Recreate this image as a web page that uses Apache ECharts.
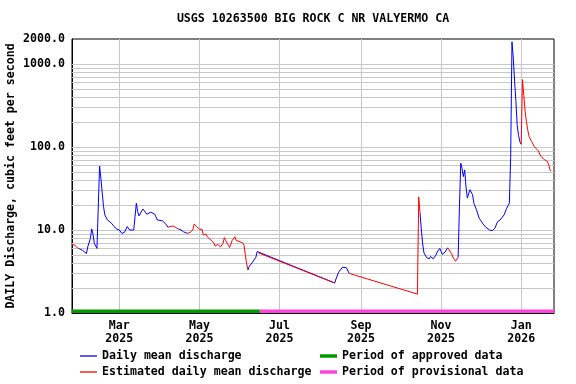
<!DOCTYPE html>
<html><head><meta charset="utf-8">
<script src="https://cdn.jsdelivr.net/npm/echarts@6/dist/echarts.min.js"></script>
<style>html,body{margin:0;padding:0;background:#fff}#chart{width:576px;height:384px}</style>
</head><body><div id="chart"></div>
<script>
const titleText = 'USGS 10263500 BIG ROCK C NR VALYERMO CA';
const yAxisTitle = 'DAILY Discharge, cubic feet per second';
const seriesNames = ['Daily mean discharge', 'Estimated daily mean discharge', 'Period of approved data', 'Period of provisional data'];

const dates = [
 '2025-01-24','2025-01-26','2025-01-28','2025-01-29','2025-02-01','2025-02-04','2025-02-05','2025-02-07','2025-02-08','2025-02-09',
 '2025-02-10','2025-02-12','2025-02-13','2025-02-14','2025-02-15','2025-02-16','2025-02-17','2025-02-18','2025-02-20','2025-02-23',
 '2025-02-25','2025-02-27','2025-03-01','2025-03-03','2025-03-05','2025-03-07','2025-03-09','2025-03-12','2025-03-13','2025-03-14',
 '2025-03-15','2025-03-16','2025-03-17','2025-03-19','2025-03-20','2025-03-22','2025-03-25','2025-03-28','2025-03-30','2025-04-03',
 '2025-04-06','2025-04-07','2025-04-08','2025-04-11','2025-04-13','2025-04-15','2025-04-17','2025-04-19','2025-04-22','2025-04-24',
 '2025-04-26','2025-04-27','2025-04-29','2025-05-01','2025-05-03','2025-05-04','2025-05-06','2025-05-07','2025-05-10','2025-05-12',
 '2025-05-13','2025-05-15','2025-05-17','2025-05-19','2025-05-20','2025-05-21','2025-05-23','2025-05-24','2025-05-26','2025-05-28',
 '2025-05-29','2025-05-30','2025-06-01','2025-06-03','2025-06-04','2025-06-05','2025-06-06','2025-06-07','2025-06-08','2025-06-10',
 '2025-06-11','2025-06-13','2025-06-14','2025-06-15','2025-08-12','2025-08-13','2025-08-15','2025-08-18','2025-08-19','2025-08-21',
 '2025-08-23','2025-10-14','2025-10-15','2025-10-16','2025-10-17','2025-10-18','2025-10-19','2025-10-21','2025-10-23','2025-10-24',
 '2025-10-26','2025-10-28','2025-10-29','2025-10-31','2025-11-01','2025-11-02','2025-11-04','2025-11-05','2025-11-06','2025-11-07',
 '2025-11-09','2025-11-10','2025-11-12','2025-11-14','2025-11-15','2025-11-16','2025-11-17','2025-11-18','2025-11-19','2025-11-20',
 '2025-11-21','2025-11-23','2025-11-24','2025-11-25','2025-11-26','2025-11-28','2025-11-30','2025-12-03','2025-12-05','2025-12-08',
 '2025-12-10','2025-12-12','2025-12-14','2025-12-16','2025-12-17','2025-12-19','2025-12-21','2025-12-23','2025-12-24','2025-12-25',
 '2025-12-26','2025-12-27','2025-12-28','2025-12-29','2025-12-30','2025-12-31','2026-01-01','2026-01-02','2026-01-03','2026-01-04',
 '2026-01-05','2026-01-06','2026-01-07','2026-01-09','2026-01-11','2026-01-14','2026-01-16','2026-01-19','2026-01-21','2026-01-22',
 '2026-01-23','2026-01-24'
];
const flow = [
 6.7, 6.6, 6.1, 6.0, 5.7, 5.2, 6.25, 7.9, 10.3, 8.9,
 6.9, 6.0, 5.7, 59, 42, 28, 19.2, 15.2, 13.2, 12.1,
 11, 10.3, 10.0, 9.1, 9.4, 11, 10, 10, 14.5, 21,
 16.7, 14.8, 15.5, 17.9, 17, 15.5, 16.4, 15.5, 13.2, 12.9,
 11.5, 10.8, 10.3, 11.2, 10.7, 10.3, 10.0, 9.5, 9.1, 9.4,
 10.0, 11.8, 11.0, 10.2, 10.2, 8.7, 8.9, 8.3, 7.5, 7.0,
 6.4, 6.7, 6.25, 6.9, 8.1, 7.5, 6.55, 6.15, 7.5, 8.3,
 7.5, 7.7, 7.2, 7.0, 6.55, 4.95, 3.9, 3.3, 3.65, 4.0,
 4.2, 4.7, 5.5, 5.3, 2.3, 2.57, 3.1, 3.57, 3.4, 3.5,
 3.0, 1.69, 25, 16, 10, 6.8, 5.3, 4.65, 4.5, 4.8,
 4.5, 4.95, 5.4, 6.0, 5.55, 5.1, 5.4, 5.7, 6.1, 5.8,
 5.2, 4.7, 4.2, 4.7, 19, 64, 55, 44, 53, 33,
 24.3, 30.6, 30, 26.6, 21, 17.5, 13.9, 11.8, 10.8, 10.0,
 9.8, 10.5, 12.6, 13.2, 12.6, 15.2, 18.3, 21, 75, 1850,
 1180, 620, 354, 180, 138, 116, 108, 647, 420, 270,
 203, 161, 134, 116, 101, 90, 77, 70, 67, 61,
 53, 51
];
const estimatedPeriods = [
 ['2025-01-24','2025-01-29'], ['2025-04-07','2025-04-15'], ['2025-04-22','2025-06-07'],
 ['2025-06-15','2025-08-12'], ['2025-08-23','2025-10-16'], ['2025-11-06','2025-11-14'],
 ['2026-01-01','2026-01-24']
];
const approvedPeriod = ['2025-01-24', '2025-06-16'];
const provisionalPeriod = ['2025-06-16', '2026-01-26'];
const xRange = ['2025-01-24', '2026-01-26'];
const yRange = [1, 2000];
const monthTicks = ['2025-03-01','2025-05-01','2025-07-01','2025-09-01','2025-11-01','2026-01-01'];
const monthNames = ['Jan','Feb','Mar','Apr','May','Jun','Jul','Aug','Sep','Oct','Nov','Dec'];
const gridValues = [2,3,4,5,6,7,8,9,10,20,30,40,50,60,70,80,90,100,200,300,400,500,600,700,800,900,1000];
const periodLevel = 1.05;

const toTime = s => { const p = s.split('-').map(Number); return new Date(p[0], p[1]-1, p[2]).getTime(); };
const inside = (d, r) => d > r[0] && d < r[1];
const within = (d, r) => d >= r[0] && d <= r[1];
const isEst = d => estimatedPeriods.some(r => within(d, r));
const isBlue = d => !estimatedPeriods.some(r => inside(d, r));
const blueData = dates.map((d, i) => [toTime(d), isBlue(d) ? flow[i] : null]);
const redData = dates.map((d, i) => [toTime(d), isEst(d) ? flow[i] : null]);

const FONT = "'DejaVu Sans Mono', monospace";
const txt = {fontFamily: FONT, fontWeight: 'bold', fontSize: 11.6, color: '#000'};
const GRID = '#c8c8c8';

const chart = echarts.init(document.getElementById('chart'), null, {renderer: 'canvas'});
chart.setOption({
  animation: false,
  backgroundColor: '#fff',
  graphic: [{type: 'text', x: 313, y: 19, style: {text: titleText, align: 'center', verticalAlign: 'middle', fill: '#000', font: "bold 11.6px 'DejaVu Sans Mono', monospace"}}],
  grid: {left: 72, right: 22, top: 39, bottom: 71, show: true, borderColor: '#000', borderWidth: 1, containLabel: false, outerBoundsMode: 'none'},
  legend: [
    {data: seriesNames.slice(0, 2), orient: 'vertical', left: 80, top: 350, padding: 0, icon: 'rect', itemWidth: 17, itemHeight: 1.3, itemGap: 4, textStyle: Object.assign({lineHeight: 12}, txt), selectedMode: false},
    {data: seriesNames.slice(2, 4), orient: 'vertical', left: 320, top: 350, padding: 0, icon: 'rect', itemWidth: 17, itemHeight: 3.5, itemGap: 4, textStyle: Object.assign({lineHeight: 12}, txt), selectedMode: false}
  ],
  xAxis: {
    type: 'value', min: toTime(xRange[0]), max: toTime(xRange[1]), scale: true,
    axisLine: {show: true, lineStyle: {color: '#000', width: 1}},
    axisTick: {show: false},
    splitLine: {show: false},
    axisLabel: Object.assign({}, txt, {
      customValues: monthTicks.map(toTime), margin: 6, lineHeight: 13.5, align: 'center',
      formatter: v => { const d = new Date(v); return monthNames[d.getMonth()] + '\n' + d.getFullYear(); }
    })
  },
  yAxis: {
    type: 'log', logBase: 10, min: yRange[0], max: yRange[1],
    name: yAxisTitle, nameLocation: 'middle', nameGap: 55, nameRotate: 90, nameMoveOverlap: false,
    nameTextStyle: Object.assign({}, txt),
    axisLine: {show: true, lineStyle: {color: '#000', width: 1}},
    axisTick: {show: false},
    splitLine: {show: false},
    minorSplitLine: {show: false},
    axisLabel: Object.assign({}, txt, {margin: 7, formatter: v => Number(v).toFixed(1)})
  },
  series: [
    {name: 'gridlines', type: 'line', data: [], silent: true, z: 1,
     markLine: {silent: true, z: 1, symbol: ['none', 'none'], label: {show: false}, animation: false,
       lineStyle: {color: GRID, width: 1, type: 'solid'}, emphasis: {disabled: true},
       data: gridValues.map(v => ({yAxis: v})).concat(monthTicks.map(t => ({xAxis: toTime(t)})))}},
    {name: seriesNames[0], type: 'line', data: blueData, symbol: 'none', connectNulls: false, z: 3,
     color: '#0000ff', lineStyle: {color: '#0000ff', width: 1}, emphasis: {disabled: true}},
    {name: seriesNames[1], type: 'line', data: redData, symbol: 'none', connectNulls: false, z: 3,
     color: '#ff0000', lineStyle: {color: '#ff0000', width: 1}, emphasis: {disabled: true}},
    {name: seriesNames[2], type: 'line', data: approvedPeriod.map(d => [toTime(d), periodLevel]), symbol: 'none', z: 4,
     color: '#009900', lineStyle: {color: '#009900', width: 3.5}, emphasis: {disabled: true}},
    {name: seriesNames[3], type: 'line', data: provisionalPeriod.map(d => [toTime(d), periodLevel]), symbol: 'none', z: 4,
     color: '#ff44dd', lineStyle: {color: '#ff44dd', width: 3.5}, emphasis: {disabled: true}}
  ]
});
</script></body></html>
